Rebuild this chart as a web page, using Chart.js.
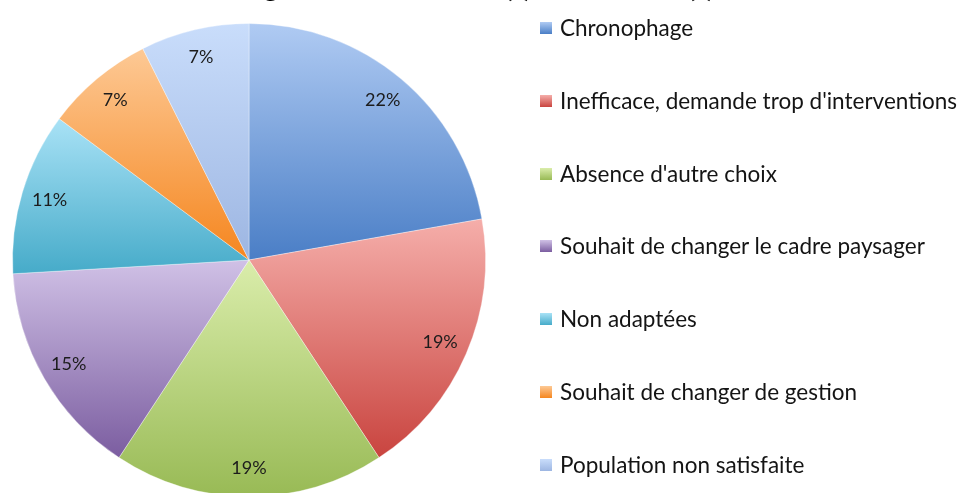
<!DOCTYPE html>
<html lang="fr">
<head>
<meta charset="utf-8">
<title>Raisons du passage à une gestion différenciée</title>
<script src="https://cdn.jsdelivr.net/npm/chart.js@4.4.1/dist/chart.umd.min.js"></script>
<style>
  html, body { margin: 0; padding: 0; background: #fff; overflow: hidden; }
  #wrap { position: relative; width: 962px; height: 493px; overflow: hidden; }
  #pie { position: absolute; left: 0; top: 0; }
  #legend {
    position: absolute; left: 540px; top: 16px;
    margin: 0; padding: 0; list-style: none;
    font-family: Lato, "Open Sans", sans-serif; font-size: 22.5px; color: #141414;
  }
  #legend li {
    height: 24px; line-height: 24px; margin-bottom: 48.8px;
    display: flex; align-items: center; white-space: nowrap;
  }
  #legend li span { display: inline-block; width: 12px; height: 12px; margin-right: 8px; flex: none; }
</style>
</head>
<body>
<div id="wrap">
  <canvas id="pie" width="962" height="497"></canvas>
  <ul id="legend"></ul>
</div>
<script>
const titleLines = ['Raisons du passage à une', 'gestion différenciée(s) et raisonnée(s)'];
const categories = [
  'Chronophage',
  "Inefficace, demande trop d'interventions",
  "Absence d'autre choix",
  'Souhait de changer le cadre paysager',
  'Non adaptées',
  'Souhait de changer de gestion',
  'Population non satisfaite'
];
const responses = [6, 5, 5, 4, 3, 2, 2];

// top / bottom colour of each slice's gradient
const shadesTop = ['#b0cbf3', '#f5aeaa', '#daedab', '#d0c1e6', '#a9e2f6', '#fdc995', '#c9ddfb'];
const shadesBottom = ['#4a7ec6', '#c9443f', '#98ba55', '#7b5da0', '#46abc9', '#f5861f', '#9db6e2'];

const total = responses.reduce((a, b) => a + b, 0);

// vertical gradient spanning the bounding box of one slice
function sliceGradient(ctx) {
  const chart = ctx.chart;
  const area = chart.chartArea;
  const i = ctx.dataIndex;
  if (!area || i === undefined) return shadesBottom[i] || '#999';
  const cy = (area.top + area.bottom) / 2;
  const r = Math.min(area.width, area.height) / 2;
  let a0 = -Math.PI / 2;
  for (let k = 0; k < i; k++) a0 += responses[k] / total * 2 * Math.PI;
  const a1 = a0 + responses[i] / total * 2 * Math.PI;
  const ys = [cy, cy + r * Math.sin(a0), cy + r * Math.sin(a1)];
  [Math.PI / 2, 3 * Math.PI / 2].forEach(a => {
    if (a > a0 && a < a1) ys.push(cy + r * Math.sin(a));
  });
  const g = chart.ctx.createLinearGradient(0, Math.min(...ys), 0, Math.max(...ys));
  g.addColorStop(0, shadesTop[i]);
  g.addColorStop(1, shadesBottom[i]);
  return g;
}

// percentage text inside each slice, near the rim
const sliceLabels = {
  id: 'sliceLabels',
  afterDatasetsDraw(chart) {
    const ctx = chart.ctx;
    const meta = chart.getDatasetMeta(0);
    ctx.save();
    ctx.font = '18px Lato, "Open Sans", sans-serif';
    ctx.fillStyle = '#1c1c1c';
    ctx.textAlign = 'center';
    ctx.textBaseline = 'middle';
    meta.data.forEach((arc, i) => {
      const p = arc.getProps(['x', 'y', 'startAngle', 'endAngle', 'outerRadius'], true);
      const mid = (p.startAngle + p.endAngle) / 2;
      const d = p.outerRadius * 0.88;
      const pct = Math.round(responses[i] / total * 100) + '%';
      ctx.fillText(pct, p.x + Math.cos(mid) * d, p.y + Math.sin(mid) * d);
    });
    ctx.restore();
  }
};

// two-line title above the top edge; only the lowest strokes reach the canvas.
// the second line is sized to run from x=264 to x=714
const topTitle = {
  id: 'topTitle',
  afterDraw(chart) {
    const ctx = chart.ctx;
    ctx.save();
    ctx.font = 'bold 28px Lato, "Open Sans", sans-serif';
    const size = 28 * 450 / ctx.measureText(titleLines[1]).width;
    ctx.font = 'bold ' + size.toFixed(2) + 'px Lato, "Open Sans", sans-serif';
    ctx.fillStyle = '#000';
    ctx.textAlign = 'center';
    ctx.textBaseline = 'alphabetic';
    ctx.fillText(titleLines[0], 489, -3 - size * 1.2);
    ctx.fillText(titleLines[1], 489, -3);
    ctx.restore();
  }
};

const chart = new Chart(document.getElementById('pie'), {
  type: 'pie',
  data: {
    labels: categories,
    datasets: [{
      data: responses,
      backgroundColor: sliceGradient,
      borderColor: 'rgba(255,255,255,0.35)',
      borderWidth: 1
    }]
  },
  options: {
    responsive: false,
    animation: false,
    layout: { padding: { left: 12, top: 23, right: 476, bottom: 0 } },
    plugins: {
      legend: { display: false },
      tooltip: { enabled: false }
    }
  },
  plugins: [sliceLabels, topTitle]
});

// legend list built from the same categories
const legend = document.getElementById('legend');
categories.forEach((name, i) => {
  const li = document.createElement('li');
  const box = document.createElement('span');
  box.style.background = 'linear-gradient(' + shadesTop[i] + ', ' + shadesBottom[i] + ')';
  li.appendChild(box);
  li.appendChild(document.createTextNode(name));
  legend.appendChild(li);
});
</script>
</body>
</html>
